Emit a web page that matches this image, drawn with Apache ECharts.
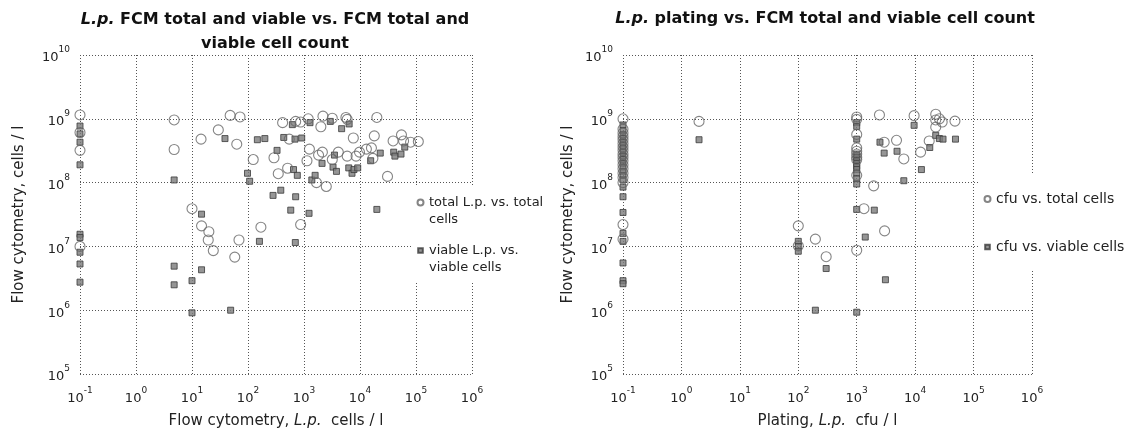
<!DOCTYPE html>
<html>
<head>
<meta charset="utf-8">
<script src="https://cdn.jsdelivr.net/npm/echarts@6/dist/echarts.min.js"></script>
<style>
html,body{margin:0;padding:0;background:#fff;}
#chart{width:1128px;height:434px;}
</style>
</head>
<body>
<div id="chart"></div>
<script>
// ---------- data (x, y) ----------
// Left panel: FCM L.p. count (x) vs FCM total/viable cell count (y)
const leftTotal = [
  [0.1,1.15e9],[0.1,6.1e8],[0.1,3.2e8],[0.1,1e7],
  [4.8,9.6e8],[4.8,3.3e8],
  [14.5,4.8e8],[29.5,6.7e8],[48,1.13e9],[72,1.07e9],[63,4e8],
  [124,2.3e8],[291,2.45e8],[347,1.38e8],[415,8.7e8],[510,1.68e8],[545,4.8e8],[710,9.1e8],[870,8.9e8],
  [1190,1e9],[1130,2.2e8],[1250,3.35e8],[1670,1e8],[2000,7.5e8],[1820,2.7e8],[2130,3e8],[2180,1.1e9],
  [2500,8.7e7],[3200,1.02e9],[3200,2.3e8],[4100,3e8],[5600,1.05e9],[5900,9.8e8],[5900,2.6e8],
  [7600,5e8],[8500,2.6e8],[9800,3e8],
  [13000,3.35e8],[16000,3.5e8],[17000,2.4e8],[18000,5.4e8],[20000,1.05e9],[31000,1.25e8],
  [39000,4.5e8],[55000,5.6e8],[60000,4.5e8],[80000,4.3e8],[110000,4.4e8],
  [10,3.9e7],[14.8,2.1e7],[20,1.7e7],[19.5,1.26e7],[24,8.6e6],[69,1.26e7],[58,6.8e6],[170,2e7],[870,2.2e7]
];
const leftViable = [
  [0.1,7.7e8],[0.1,5.8e8],[0.1,4.3e8],[0.1,1.9e8],[0.1,1.55e7],[0.1,1.38e7],[0.1,8.1e6],[0.1,5.3e6],[0.1,2.75e6],
  [4.8,1.1e8],[4.8,4.9e6],[4.8,2.5e6],
  [10,2.9e6],[10,9.1e5],[14.8,3.2e7],[14.8,4.3e6],[49,1e6],
  [38.8,4.9e8],[98,1.4e8],[107,1.05e8],[147,4.7e8],[160,1.2e7],[200,4.9e8],[280,6.3e7],[330,3.2e8],
  [385,7.6e7],[435,5.1e8],[580,3.7e7],[620,8.1e8],[650,1.6e8],[690,4.8e8],[700,1.15e7],[710,6e7],
  [760,1.3e8],[910,5e8],
  [1230,3.3e7],[1280,8.7e8],[1380,1.1e8],[1580,1.3e8],[2100,2e8],[2950,9.1e8],[3300,1.75e8],
  [3500,2.7e8],[3800,1.5e8],[4700,7e8],[6300,1.7e8],[6400,8.3e8],[7200,1.4e8],[7800,1.6e8],[9100,1.7e8],
  [15500,2.2e8],[20000,3.8e7],[23000,2.9e8],[40000,3e8],[42000,2.6e8],[54000,2.8e8],[63000,3.6e8]
];
// Right panel: plating cfu (x) vs FCM total/viable cell count (y)
const rightTotal = [
  [0.1,1e9],[0.1,6.9e8],[0.1,6e8],[0.1,5.3e8],[0.1,4.7e8],[0.1,4.1e8],[0.1,3.6e8],[0.1,3.2e8],
  [0.1,2.8e8],[0.1,2.5e8],[0.1,2.2e8],[0.1,1.9e8],[0.1,1.65e8],[0.1,1.4e8],[0.1,1.2e8],[0.1,1e8],
  [0.1,2.2e7],[0.1,1.3e7],
  [2,9.1e8],
  [100,2.1e7],[100,1.02e7],[196,1.3e7],[300,6.9e6],
  [1000,1.07e9],[1000,9.8e8],[1000,5.7e8],[1000,3.5e8],[1000,3.1e8],[1000,2.8e8],[1000,2.5e8],
  [1000,2.3e8],[1000,1.3e8],[1000,8.7e6],
  [1330,3.9e7],[1950,8.9e7],[2450,1.15e9],[2950,4.3e8],[3000,1.75e7],[4800,4.6e8],[6400,2.35e8],
  [9600,1.12e9],[12400,3e8],[17400,4.5e8],[22500,1.18e9],[22500,9.6e8],[22500,7.4e8],[26000,1e9],
  [29000,8.9e8],[48000,9.2e8]
];
const rightViable = [
  [0.1,8e8],[0.1,6.5e8],[0.1,5.6e8],[0.1,4.9e8],[0.1,4.3e8],[0.1,3.8e8],[0.1,3.4e8],[0.1,3e8],
  [0.1,2.6e8],[0.1,2.3e8],[0.1,2e8],[0.1,1.75e8],[0.1,1.5e8],[0.1,1.3e8],[0.1,1.1e8],[0.1,8.5e7],
  [0.1,6e7],[0.1,3.4e7],[0.1,1.6e7],[0.1,1.2e7],[0.1,5.5e6],[0.1,2.9e6],[0.1,2.6e6],
  [2,4.7e8],
  [100,1.2e7],[100,1e7],[100,8.4e6],[196,1e6],[300,4.5e6],
  [1000,8.7e8],[1000,7.6e8],[1000,4.8e8],[1000,2.8e8],[1000,2.5e8],[1000,2.2e8],[1000,2e8],
  [1000,1.8e8],[1000,1.6e8],[1000,1.4e8],[1000,1.15e8],[1000,9.5e7],[1000,3.8e7],[1000,9.3e5],
  [1400,1.4e7],[2000,3.7e7],[2500,4.3e8],[2950,2.9e8],[3100,3e6],[4900,3.1e8],[6400,1.07e8],
  [9600,7.9e8],[12800,1.6e8],[17800,3.55e8],[22500,5.5e8],[26000,4.9e8],[30000,4.8e8],[49000,4.8e8]
];
const seriesNames = ['total L.p. vs. total cells','viable L.p. vs. viable cells','cfu vs. total cells','cfu vs. viable cells'];
const legendLabels = {
  'total L.p. vs. total cells':'total L.p. vs. total\ncells',
  'viable L.p. vs. viable cells':'viable L.p. vs.\nviable cells',
  'cfu vs. total cells':'cfu vs. total cells',
  'cfu vs. viable cells':'cfu vs. viable cells'
};
const xRange = [0.1, 1e6];
const yRange = [1e5, 1e10];

// ---------- styling ----------
const FONT = 'DejaVu Sans';
const TXT = '#222';
const GRIDC = '#555';

function powLabel(v){
  const e = Math.round(Math.log10(v));
  return '{b|10}{s|' + (e < 0 ? '-' : '') + Math.abs(e) + '}';
}
const powRich = {
  b:{fontFamily:FONT,fontSize:13,color:TXT,padding:[6,0,0,0]},
  s:{fontFamily:FONT,fontSize:9,color:TXT,verticalAlign:'top'}
};
function xAxisCfg(gridIndex, nameParts){
  return {
    type:'log', logBase:10, gridIndex, min:xRange[0], max:xRange[1], interval:1,
    axisLine:{show:false}, axisTick:{show:false},
    splitLine:{show:true,lineStyle:{color:GRIDC,type:[1,2],width:1}},
    axisLabel:{formatter:powLabel, rich:powRich, margin:12},
    name:nameParts, nameLocation:'middle', nameGap:40,
    nameTextStyle:{fontFamily:FONT,fontSize:15,color:TXT,
      rich:{n:{fontFamily:FONT,fontSize:15,color:TXT},i:{fontFamily:FONT,fontSize:15,color:TXT,fontStyle:'italic'}}}
  };
}
function yAxisCfg(gridIndex, gap){
  return {
    type:'log', logBase:10, gridIndex, min:yRange[0], max:yRange[1], interval:1,
    axisLine:{show:false}, axisTick:{show:false},
    splitLine:{show:true,lineStyle:{color:GRIDC,type:[1,2],width:1}},
    axisLabel:{formatter:powLabel, rich:powRich, margin:10},
    name:'Flow cytometry, cells / l', nameLocation:'middle', nameGap:gap,
    nameTextStyle:{fontFamily:FONT,fontSize:15,color:TXT}
  };
}
const circleStyle = {color:'rgba(255,255,255,0)', borderColor:'#666', borderWidth:1.1};
const squareStyle = {color:'#7c7c7c', borderColor:'#3a3a3a', borderWidth:1};
function scatter(name, data, idx, isCircle){
  return {
    name, type:'scatter', xAxisIndex:idx, yAxisIndex:idx, data,
    symbol: isCircle ? 'circle' : 'rect',
    symbolSize: isCircle ? 10 : 6,
    itemStyle: isCircle ? circleStyle : squareStyle,
    z: isCircle ? 3 : 2,
    silent:true
  };
}
const titleRich = {
  i:{fontFamily:FONT,fontSize:16,fontWeight:'bold',fontStyle:'italic',color:'#111'},
  t:{fontFamily:FONT,fontSize:16,fontWeight:'bold',color:'#111'}
};
// legend icons aligned to the first line of a two-line label (7 x 24 box, symbol at top)
const ICON_CIRCLE_TOP = 'path://M0,0L0,0M7,24L7,24M6.5,3.5A3,3,0,1,1,0.5,3.5A3,3,0,1,1,6.5,3.5Z';
const ICON_RECT_TOP = 'path://M0,0L0,0M7,24L7,24M1.2,1.2L5.8,1.2L5.8,5.8L1.2,5.8Z';
const ICON_CIRCLE = 'path://M0,0L0,0M7,7L7,7M6.5,3.5A3,3,0,1,1,0.5,3.5A3,3,0,1,1,6.5,3.5Z';
const ICON_RECT = 'path://M0,0L0,0M7,7L7,7M1.2,1.2L5.8,1.2L5.8,5.8L1.2,5.8Z';

const option = {
  animation:false,
  backgroundColor:'#fff',
  title:[
    {text:'{i|L.p.}{t| FCM total and viable vs. FCM total and}\n{t|viable cell count}',
     left:270, top:3, textAlign:'center',
     textStyle:{rich:titleRich, lineHeight:24, fontFamily:FONT}},
    {text:'{i|L.p.}{t| plating vs. FCM total and viable cell count}',
     left:820, top:6, textAlign:'center',
     textStyle:{rich:titleRich, fontFamily:FONT}}
  ],
  grid:[
    {left:80, top:55, width:392, height:322},
    {left:623, top:55, width:409, height:322}
  ],
  xAxis:[
    xAxisCfg(0, '{n|Flow cytometry, }{i|L.p.}{n|  cells / l}'),
    xAxisCfg(1, '{n|Plating, }{i|L.p.}{n|  cfu / l}')
  ],
  yAxis:[ yAxisCfg(0, 53), yAxisCfg(1, 47) ],
  legend:[
    {data:[{name:seriesNames[0],icon:ICON_CIRCLE_TOP},{name:seriesNames[1],icon:ICON_RECT_TOP}],
     orient:'vertical', left:413, top:186,
     backgroundColor:'#fff', padding:[8,8,6,3], itemGap:14, itemWidth:7, itemHeight:24,
     formatter:n=>legendLabels[n],
     textStyle:{fontFamily:FONT,fontSize:13,color:TXT,lineHeight:17}},
    {data:[{name:seriesNames[2],icon:ICON_CIRCLE},{name:seriesNames[3],icon:ICON_RECT}],
     orient:'vertical', left:980, top:173,
     backgroundColor:'#fff', padding:[19,20,16,3], itemGap:34, itemWidth:7, itemHeight:7,
     formatter:n=>legendLabels[n],
     textStyle:{fontFamily:FONT,fontSize:14,color:TXT}}
  ],
  series:[
    scatter(seriesNames[1], leftViable, 0, false),
    scatter(seriesNames[0], leftTotal, 0, true),
    scatter(seriesNames[3], rightViable, 1, false),
    scatter(seriesNames[2], rightTotal, 1, true)
  ]
};
const chart = echarts.init(document.getElementById('chart'), null, {renderer:'canvas'});
chart.setOption(option);
</script>
</body>
</html>
